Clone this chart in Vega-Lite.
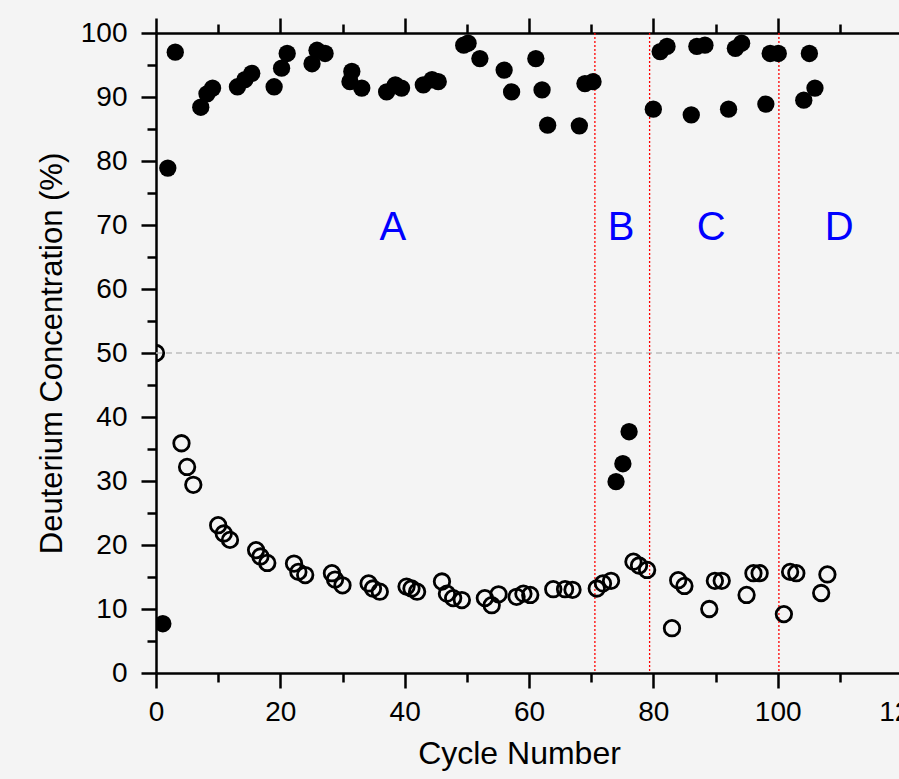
{
  "$schema": "https://vega.github.io/schema/vega-lite/v6.json",
  "autosize": {"type": "none"},
  "padding": {"left": 156, "top": 33, "right": 0, "bottom": 106},
  "width": 746,
  "height": 640,
  "background": "#f4f4f4",
  "config": {
    "view": {"stroke": null},
    "font": "Liberation Sans",
    "axis": {"grid": false, "domainColor": "#000000", "tickColor": "#000000", "labelColor": "#000000", "titleColor": "#000000", "domainWidth": 2.5, "tickWidth": 2.5, "labelFont": "Liberation Sans", "titleFont": "Liberation Sans", "titleFontWeight": "normal"}
  },
  "datasets": {
    "pts": [
      {"cycle": 1.1, "conc": 7.7, "kind": "filled"},
      {"cycle": 1.9, "conc": 78.9, "kind": "filled"},
      {"cycle": 3.1, "conc": 97.0, "kind": "filled"},
      {"cycle": 7.2, "conc": 88.4, "kind": "filled"},
      {"cycle": 8.2, "conc": 90.5, "kind": "filled"},
      {"cycle": 9.1, "conc": 91.4, "kind": "filled"},
      {"cycle": 13.1, "conc": 91.6, "kind": "filled"},
      {"cycle": 14.3, "conc": 92.7, "kind": "filled"},
      {"cycle": 15.4, "conc": 93.7, "kind": "filled"},
      {"cycle": 19.0, "conc": 91.6, "kind": "filled"},
      {"cycle": 20.2, "conc": 94.5, "kind": "filled"},
      {"cycle": 21.1, "conc": 96.8, "kind": "filled"},
      {"cycle": 25.1, "conc": 95.2, "kind": "filled"},
      {"cycle": 25.9, "conc": 97.3, "kind": "filled"},
      {"cycle": 27.2, "conc": 96.8, "kind": "filled"},
      {"cycle": 31.5, "conc": 94.0, "kind": "filled"},
      {"cycle": 31.2, "conc": 92.4, "kind": "filled"},
      {"cycle": 33.1, "conc": 91.4, "kind": "filled"},
      {"cycle": 37.1, "conc": 90.8, "kind": "filled"},
      {"cycle": 38.5, "conc": 91.9, "kind": "filled"},
      {"cycle": 39.5, "conc": 91.4, "kind": "filled"},
      {"cycle": 43.0, "conc": 91.9, "kind": "filled"},
      {"cycle": 44.4, "conc": 92.7, "kind": "filled"},
      {"cycle": 45.4, "conc": 92.4, "kind": "filled"},
      {"cycle": 49.5, "conc": 98.1, "kind": "filled"},
      {"cycle": 50.2, "conc": 98.4, "kind": "filled"},
      {"cycle": 52.1, "conc": 96.0, "kind": "filled"},
      {"cycle": 56.0, "conc": 94.2, "kind": "filled"},
      {"cycle": 57.2, "conc": 90.8, "kind": "filled"},
      {"cycle": 61.1, "conc": 96.0, "kind": "filled"},
      {"cycle": 62.1, "conc": 91.1, "kind": "filled"},
      {"cycle": 63.0, "conc": 85.6, "kind": "filled"},
      {"cycle": 68.1, "conc": 85.5, "kind": "filled"},
      {"cycle": 69.0, "conc": 92.1, "kind": "filled"},
      {"cycle": 70.3, "conc": 92.4, "kind": "filled"},
      {"cycle": 74.0, "conc": 29.9, "kind": "filled"},
      {"cycle": 75.1, "conc": 32.7, "kind": "filled"},
      {"cycle": 76.1, "conc": 37.7, "kind": "filled"},
      {"cycle": 80.0, "conc": 88.1, "kind": "filled"},
      {"cycle": 81.1, "conc": 97.1, "kind": "filled"},
      {"cycle": 82.2, "conc": 97.9, "kind": "filled"},
      {"cycle": 86.1, "conc": 87.2, "kind": "filled"},
      {"cycle": 87.0, "conc": 97.9, "kind": "filled"},
      {"cycle": 88.3, "conc": 98.1, "kind": "filled"},
      {"cycle": 92.1, "conc": 88.1, "kind": "filled"},
      {"cycle": 93.2, "conc": 97.6, "kind": "filled"},
      {"cycle": 94.2, "conc": 98.4, "kind": "filled"},
      {"cycle": 98.1, "conc": 88.9, "kind": "filled"},
      {"cycle": 98.8, "conc": 96.8, "kind": "filled"},
      {"cycle": 100.1, "conc": 96.8, "kind": "filled"},
      {"cycle": 104.2, "conc": 89.5, "kind": "filled"},
      {"cycle": 105.1, "conc": 96.8, "kind": "filled"},
      {"cycle": 106.0, "conc": 91.4, "kind": "filled"},
      {"cycle": 0.0, "conc": 50.0, "kind": "open"},
      {"cycle": 4.1, "conc": 35.9, "kind": "open"},
      {"cycle": 5.0, "conc": 32.2, "kind": "open"},
      {"cycle": 6.0, "conc": 29.4, "kind": "open"},
      {"cycle": 10.0, "conc": 23.1, "kind": "open"},
      {"cycle": 10.9, "conc": 21.8, "kind": "open"},
      {"cycle": 11.9, "conc": 20.8, "kind": "open"},
      {"cycle": 16.1, "conc": 19.2, "kind": "open"},
      {"cycle": 16.8, "conc": 18.2, "kind": "open"},
      {"cycle": 17.9, "conc": 17.2, "kind": "open"},
      {"cycle": 22.2, "conc": 17.1, "kind": "open"},
      {"cycle": 22.9, "conc": 15.8, "kind": "open"},
      {"cycle": 24.0, "conc": 15.3, "kind": "open"},
      {"cycle": 28.3, "conc": 15.6, "kind": "open"},
      {"cycle": 28.8, "conc": 14.6, "kind": "open"},
      {"cycle": 30.0, "conc": 13.7, "kind": "open"},
      {"cycle": 34.2, "conc": 14.0, "kind": "open"},
      {"cycle": 34.9, "conc": 13.2, "kind": "open"},
      {"cycle": 36.0, "conc": 12.7, "kind": "open"},
      {"cycle": 40.3, "conc": 13.5, "kind": "open"},
      {"cycle": 41.1, "conc": 13.2, "kind": "open"},
      {"cycle": 42.0, "conc": 12.7, "kind": "open"},
      {"cycle": 46.0, "conc": 14.3, "kind": "open"},
      {"cycle": 46.8, "conc": 12.4, "kind": "open"},
      {"cycle": 47.8, "conc": 11.7, "kind": "open"},
      {"cycle": 49.2, "conc": 11.4, "kind": "open"},
      {"cycle": 52.9, "conc": 11.7, "kind": "open"},
      {"cycle": 54.0, "conc": 10.6, "kind": "open"},
      {"cycle": 55.1, "conc": 12.3, "kind": "open"},
      {"cycle": 58.0, "conc": 11.9, "kind": "open"},
      {"cycle": 59.1, "conc": 12.4, "kind": "open"},
      {"cycle": 60.2, "conc": 12.2, "kind": "open"},
      {"cycle": 63.9, "conc": 13.1, "kind": "open"},
      {"cycle": 65.8, "conc": 13.1, "kind": "open"},
      {"cycle": 67.0, "conc": 13.0, "kind": "open"},
      {"cycle": 70.9, "conc": 13.2, "kind": "open"},
      {"cycle": 71.9, "conc": 14.0, "kind": "open"},
      {"cycle": 73.2, "conc": 14.4, "kind": "open"},
      {"cycle": 76.8, "conc": 17.4, "kind": "open"},
      {"cycle": 77.7, "conc": 16.8, "kind": "open"},
      {"cycle": 79.0, "conc": 16.1, "kind": "open"},
      {"cycle": 83.0, "conc": 7.0, "kind": "open"},
      {"cycle": 84.0, "conc": 14.5, "kind": "open"},
      {"cycle": 85.0, "conc": 13.6, "kind": "open"},
      {"cycle": 89.0, "conc": 10.0, "kind": "open"},
      {"cycle": 89.9, "conc": 14.4, "kind": "open"},
      {"cycle": 91.0, "conc": 14.4, "kind": "open"},
      {"cycle": 95.0, "conc": 12.2, "kind": "open"},
      {"cycle": 96.1, "conc": 15.6, "kind": "open"},
      {"cycle": 97.1, "conc": 15.6, "kind": "open"},
      {"cycle": 101.0, "conc": 9.2, "kind": "open"},
      {"cycle": 102.0, "conc": 15.8, "kind": "open"},
      {"cycle": 103.0, "conc": 15.6, "kind": "open"},
      {"cycle": 107.0, "conc": 12.5, "kind": "open"},
      {"cycle": 108.0, "conc": 15.4, "kind": "open"}
    ],
    "phases": [
      {"cycle": 70.6},
      {"cycle": 79.4},
      {"cycle": 100.2}
    ],
    "labels": [
      {"cycle": 38.1, "conc": 69.5, "label": "A"},
      {"cycle": 74.8, "conc": 69.5, "label": "B"},
      {"cycle": 89.3, "conc": 69.5, "label": "C"},
      {"cycle": 109.9, "conc": 69.5, "label": "D"}
    ],
    "ref": [{"conc": 50}]
  },
  "resolve": {"axis": {"x": "independent", "y": "independent"}},
  "layer": [
    {
      "data": {"name": "ref"},
      "mark": {"type": "rule", "color": "#bdbdbd", "strokeWidth": 1.3, "strokeDash": [6, 4]},
      "encoding": {
        "y": {"field": "conc", "type": "quantitative", "scale": {"domain": [0, 100]}, "axis": null}
      }
    },
    {
      "data": {"name": "phases"},
      "mark": {"type": "rule", "color": "#ff0000", "strokeWidth": 1.3, "strokeDash": [2, 2]},
      "encoding": {
        "x": {"field": "cycle", "type": "quantitative", "scale": {"domain": [0, 120]},
          "axis": {"orient": "top", "values": [0, 10, 20, 30, 40, 50, 60, 70, 80, 90, 100, 110, 120], "labels": false, "title": null,
            "tickSize": {"condition": {"test": "datum.value % 20 === 0", "value": 15}, "value": 9}}}
      }
    },
    {
      "data": {"name": "labels"},
      "mark": {"type": "text", "color": "#0000ff", "fontSize": 40, "font": "Liberation Sans", "align": "center", "baseline": "middle"},
      "encoding": {
        "x": {"field": "cycle", "type": "quantitative", "scale": {"domain": [0, 120]}, "axis": null},
        "y": {"field": "conc", "type": "quantitative", "scale": {"domain": [0, 100]}, "axis": null},
        "text": {"field": "label"}
      }
    },
    {
      "data": {"name": "pts"},
      "transform": [{"filter": "datum.kind === 'open'"}],
      "mark": {"type": "point", "shape": "circle", "filled": false, "color": "#000000", "strokeWidth": 2.8, "size": 240, "opacity": 1, "clip": true},
      "encoding": {
        "x": {"field": "cycle", "type": "quantitative", "scale": {"domain": [0, 120]}, "axis": null},
        "y": {"field": "conc", "type": "quantitative", "scale": {"domain": [0, 100]}, "axis": null}
      }
    },
    {
      "data": {"name": "pts"},
      "transform": [{"filter": "datum.kind === 'filled'"}],
      "mark": {"type": "circle", "color": "#000000", "size": 300, "opacity": 1, "clip": true},
      "encoding": {
        "x": {"field": "cycle", "type": "quantitative", "scale": {"domain": [0, 120]},
          "axis": {"orient": "bottom", "values": [0, 10, 20, 30, 40, 50, 60, 70, 80, 90, 100, 110, 120],
            "labelExpr": "datum.value % 20 === 0 ? datum.label : ''",
            "tickSize": {"condition": {"test": "datum.value % 20 === 0", "value": 15}, "value": 9},
            "labelFontSize": 28, "labelPadding": 10, "labelFlush": false,
            "title": "Cycle Number", "titleFontSize": 32, "titleX": 363, "titleY": 90, "titleBaseline": "alphabetic"}},
        "y": {"field": "conc", "type": "quantitative", "scale": {"domain": [0, 100]},
          "axis": {"orient": "left", "values": [0, 5, 10, 15, 20, 25, 30, 35, 40, 45, 50, 55, 60, 65, 70, 75, 80, 85, 90, 95, 100],
            "labelExpr": "datum.value % 10 === 0 ? datum.label : ''",
            "tickSize": {"condition": {"test": "datum.value % 10 === 0", "value": 15}, "value": 9},
            "labelFontSize": 28, "labelPadding": 14, "labelFlush": false,
            "title": "Deuterium Concentration (%)", "titleFontSize": 31, "titlePadding": 12}}
      }
    }
  ]
}
